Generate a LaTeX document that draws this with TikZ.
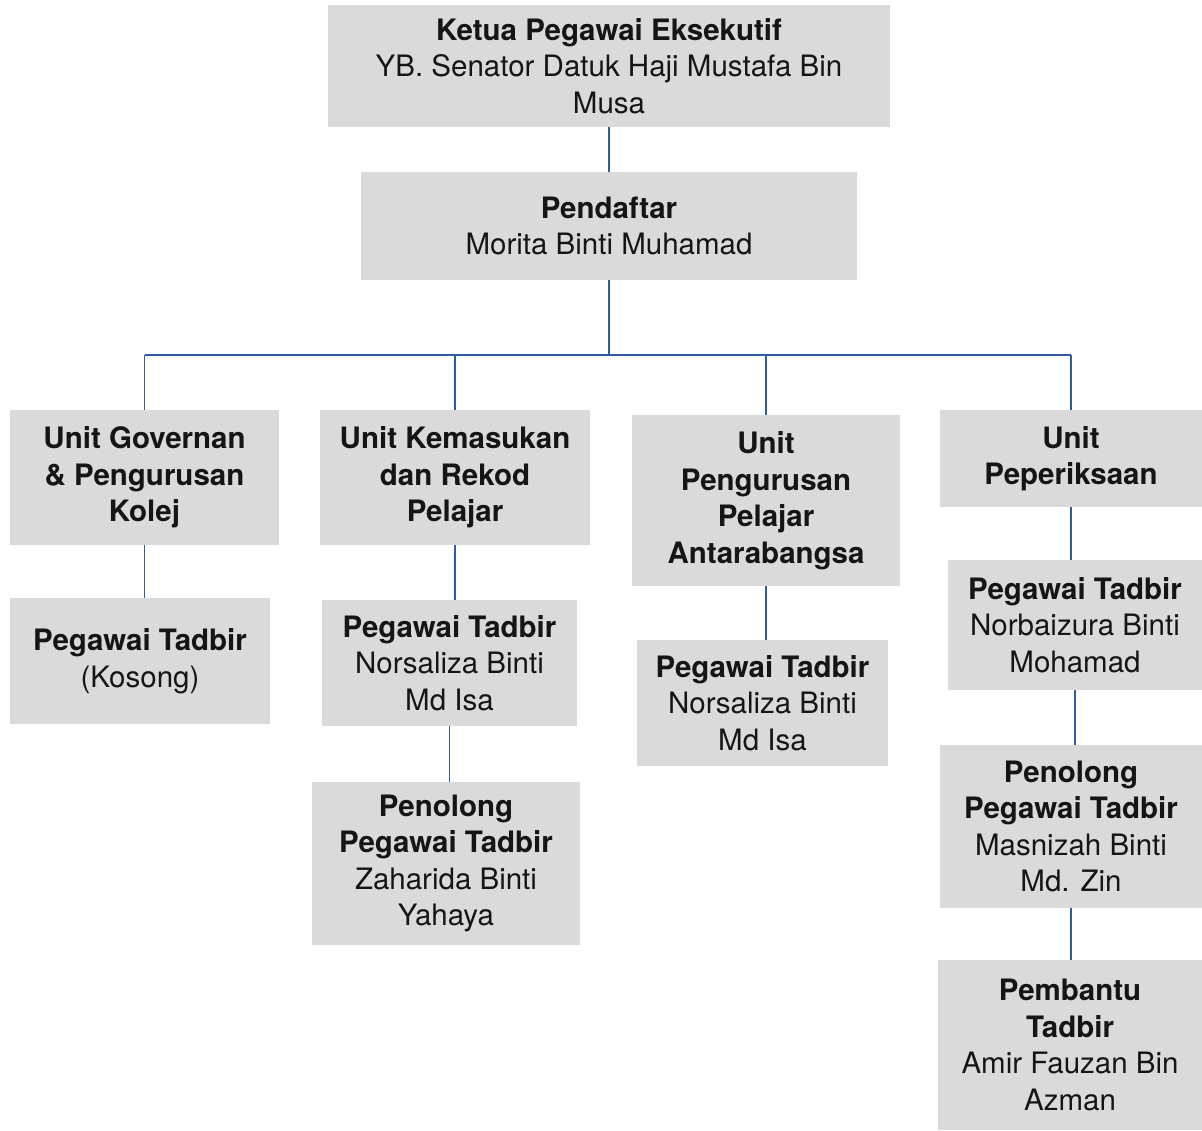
\documentclass[tikz,border=0pt]{standalone}
\usepackage{fontspec}
\setmainfont{TeX Gyre Heros}
\definecolor{boxfill}{HTML}{DADADA}
\definecolor{linkblue}{HTML}{2F5E9E}
\definecolor{ink}{HTML}{151515}
\begin{document}
\begin{tikzpicture}[x=1pt,y=-1pt,
  post/.style={fill=boxfill, draw=none, inner sep=0pt, align=center,
    text=ink, font=\fontsize{29.5}{36.5}\selectfont},
  link/.style={draw=linkblue, line width=1.4pt}]
\useasboundingbox (0,0) rectangle (1202,1130);
\fill[white] (0,0) rectangle (1202,1130);

% top management
\node[post, minimum width=562, minimum height=122] (ceo) at (609,66)
  {\textbf{Ketua Pegawai Eksekutif}\\YB. Senator Datuk Haji Mustafa Bin\\Musa};
\node[post, minimum width=496, minimum height=108] (reg) at (609,226)
  {\textbf{Pendaftar}\\Morita Binti Muhamad};

% units
\node[post, minimum width=269, minimum height=135] (u1) at (144.5,477.5)
  {\textbf{Unit Governan}\\\textbf{\& Pengurusan}\\\textbf{Kolej}};
\node[post, minimum width=270, minimum height=135] (u2) at (455,477.5)
  {\textbf{Unit Kemasukan}\\\textbf{dan Rekod}\\\textbf{Pelajar}};
\node[post, minimum width=268, minimum height=171] (u3) at (766,500.5)
  {\textbf{Unit}\\\textbf{Pengurusan}\\\textbf{Pelajar}\\\textbf{Antarabangsa}};
\node[post, minimum width=262, minimum height=97] (u4) at (1071,458.5)
  {\textbf{Unit}\\\textbf{Peperiksaan}};

% staff
\node[post, minimum width=260, minimum height=126] (p1) at (140,661)
  {\textbf{Pegawai Tadbir}\\(Kosong)};
\node[post, minimum width=255, minimum height=126] (p2) at (449.5,663)
  {\textbf{Pegawai Tadbir}\\Norsaliza Binti\\Md Isa};
\node[post, minimum width=268, minimum height=163] (p2b) at (446,863.5)
  {\textbf{Penolong}\\\textbf{Pegawai Tadbir}\\Zaharida Binti\\Yahaya};
\node[post, minimum width=251, minimum height=126] (p3) at (762.5,703)
  {\textbf{Pegawai Tadbir}\\Norsaliza Binti\\Md Isa};
\node[post, minimum width=254, minimum height=130] (p4) at (1075,625)
  {\textbf{Pegawai Tadbir}\\Norbaizura Binti\\Mohamad};
\node[post, minimum width=262, minimum height=163] (p4b) at (1071,826.5)
  {\textbf{Penolong}\\\textbf{Pegawai Tadbir}\\Masnizah Binti\\Md. Zin};
\node[post, minimum width=264, minimum height=170] (p4c) at (1070,1045)
  {\textbf{Pembantu}\\\textbf{Tadbir}\\Amir Fauzan Bin\\Azman};

% connectors
\coordinate (bus) at (609,355);
\draw[link] (ceo.south) -- (reg.north);
\draw[link] (reg.south) -- (bus);
\draw[link] (bus -| u1.north) -- (bus -| u4.north);
\foreach \u in {u1,u2,u3,u4}
  \draw[link] (bus -| \u.north) -- (\u.north);
\draw[link] (u1.south) -- (u1.south |- p1.north);
\draw[link] (u2.south) -- (u2.south |- p2.north);
\draw[link] (p2.south) -- (p2.south |- p2b.north);
\draw[link] (u3.south) -- (u3.south |- p3.north);
\draw[link] (u4.south) -- (u4.south |- p4.north);
\draw[link] (p4.south) -- (p4.south |- p4b.north);
\draw[link] (p4b.south) -- (p4b.south |- p4c.north);
\end{tikzpicture}
\end{document}
